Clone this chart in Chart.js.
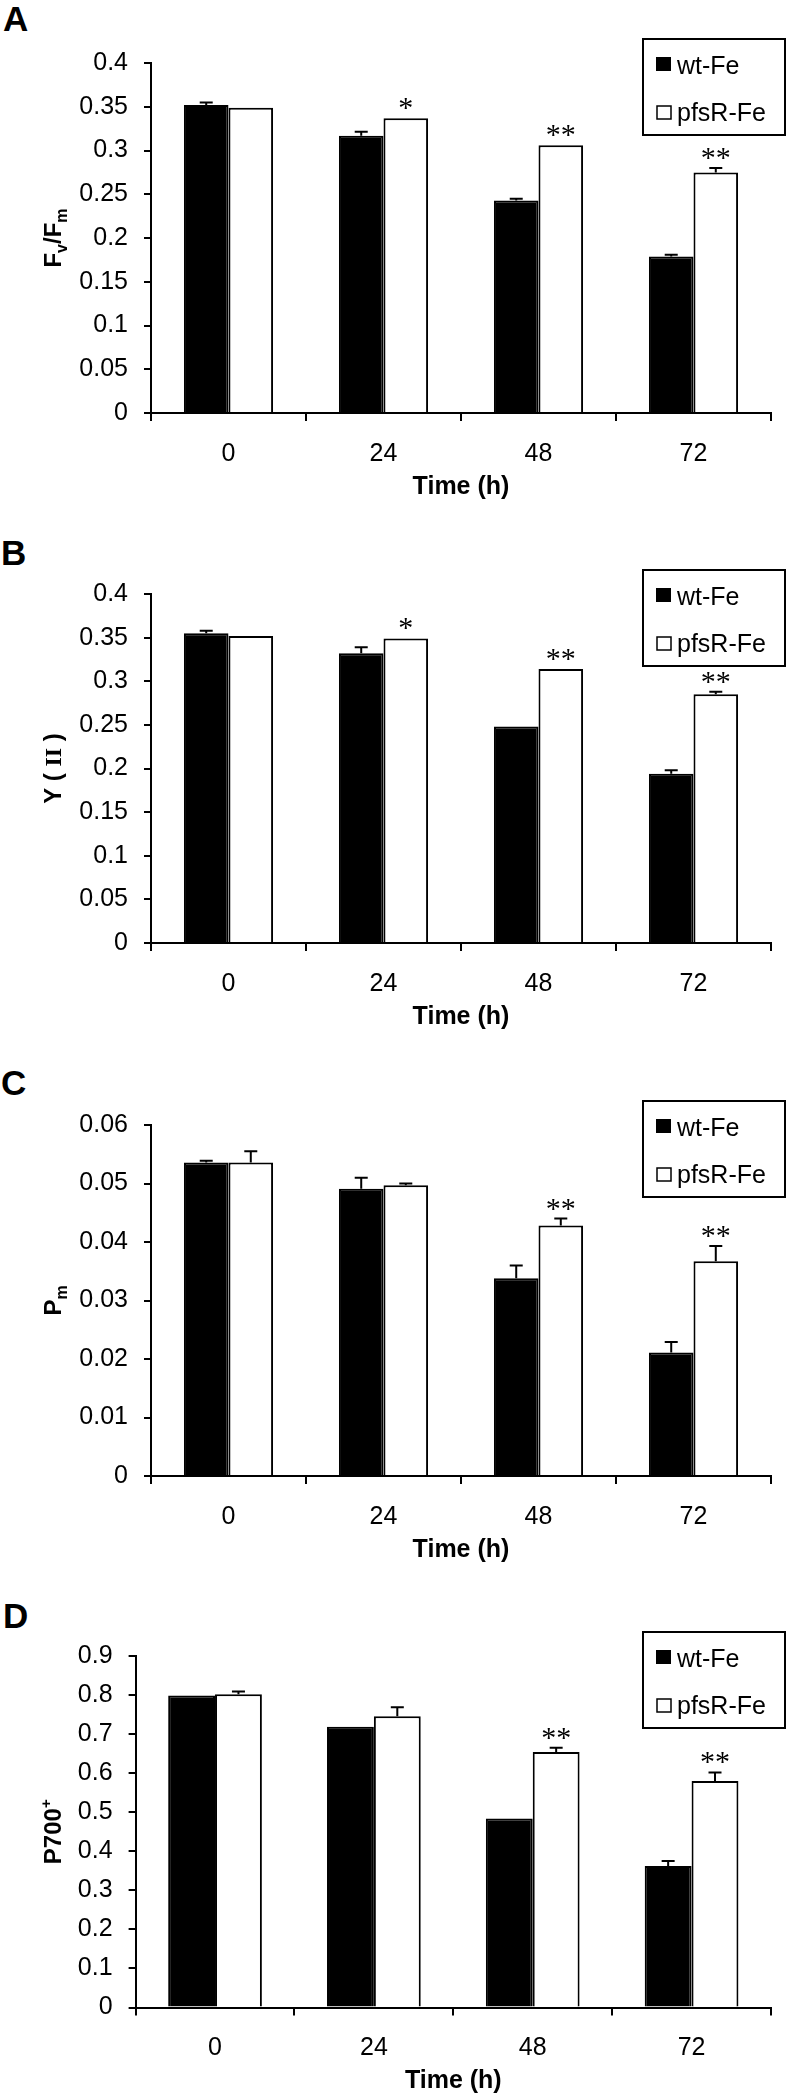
<!DOCTYPE html>
<html lang="en">
<head>
<meta charset="UTF-8">
<title>Fe stress photosynthesis</title>
<script src="https://cdn.jsdelivr.net/npm/chart.js"></script>
<style>
  body { margin:0; background:#fff; }
  #page { position:relative; width:793px; height:2099px; overflow:hidden; background:#fff; }
  .panel { position:absolute; left:0; width:793px; height:524px; }
  .letter { position:absolute; left:3px; font:bold 35px 'Liberation Sans', Arial, sans-serif; line-height:35px; color:#000; }
</style>
</head>
<body>
<div id="page">
  <div class="letter" style="top:1px">A</div>
  <div class="letter" style="top:535px;left:1px">B</div>
  <div class="letter" style="top:1065px;left:1px">C</div>
  <div class="letter" style="top:1598px">D</div>
  <div class="panel" style="top:0"><canvas id="chartA" width="793" height="524"></canvas></div>
  <div class="panel" style="top:525px"><canvas id="chartB" width="793" height="524"></canvas></div>
  <div class="panel" style="top:1050px"><canvas id="chartC" width="793" height="524"></canvas></div>
  <div class="panel" style="top:1575px"><canvas id="chartD" width="793" height="524"></canvas></div>
</div>

<script>
// categories / series
const times = ['0', '24', '48', '72'];
const seriesNames = ['wt-Fe', 'pfsR-Fe'];

// A: Fv/Fm
const fvfmWt     = [0.352, 0.317, 0.243, 0.179];
const fvfmWtErr  = [0.003, 0.0045, 0.002, 0.002];
const fvfmPfs    = [0.349, 0.337, 0.306, 0.275];
const fvfmPfsErr = [0, 0, 0, 0.005];
const fvfmSig    = ['', '*', '**', '**'];
const fvfmTicks  = [0, 0.05, 0.1, 0.15, 0.2, 0.25, 0.3, 0.35, 0.4];

// B: Y(II)
const yiiWt     = [0.355, 0.332, 0.248, 0.194];
const yiiWtErr  = [0.003, 0.007, 0, 0.004];
const yiiPfs    = [0.352, 0.349, 0.314, 0.285];
const yiiPfsErr = [0, 0, 0, 0.003];
const yiiSig    = ['', '*', '**', '**'];
const yiiTicks  = [0, 0.05, 0.1, 0.15, 0.2, 0.25, 0.3, 0.35, 0.4];

// C: Pm
const pmWt     = [0.0536, 0.0491, 0.0338, 0.0211];
const pmWtErr  = [0.0003, 0.0019, 0.0022, 0.0018];
const pmPfs    = [0.0536, 0.0497, 0.0428, 0.0367];
const pmPfsErr = [0.0019, 0.0003, 0.0012, 0.0026];
const pmSig    = ['', '', '**', '**'];
const pmTicks  = [0, 0.01, 0.02, 0.03, 0.04, 0.05, 0.06];

// D: P700+
const p700Wt     = [0.799, 0.719, 0.484, 0.362];
const p700WtErr  = [0, 0, 0, 0.013];
const p700Pfs    = [0.802, 0.746, 0.654, 0.580];
const p700PfsErr = [0.007, 0.023, 0.011, 0.022];
const p700Sig    = ['', '', '**', '**'];
const p700Ticks  = [0, 0.1, 0.2, 0.3, 0.4, 0.5, 0.6, 0.7, 0.8, 0.9];

const FONT = "'Liberation Sans', Arial, sans-serif";
Chart.defaults.font.family = FONT;
Chart.defaults.color = '#000';

// error bars, asterisks, boxed legend, y title with sub/superscripts
const extras = {
    id: 'extras',
    afterDatasetsDraw(chart, args, opts) {
        const ctx = chart.ctx;
        const ys = chart.scales.y;
        ctx.save();
        ctx.strokeStyle = '#000';
        ctx.lineWidth = 2;
        chart.data.datasets.forEach((ds, i) => {
            const meta = chart.getDatasetMeta(i);
            meta.data.forEach((bar, j) => {
                const e = ds.err[j];
                if (!e) return;
                const top = ys.getPixelForValue(ds.data[j] + e);
                ctx.beginPath();
                ctx.moveTo(bar.x, bar.y);
                ctx.lineTo(bar.x, top);
                ctx.moveTo(bar.x - 6.5, top);
                ctx.lineTo(bar.x + 6.5, top);
                ctx.stroke();
            });
        });

        // significance stars over pfsR bars
        const ds = chart.data.datasets[1];
        const meta = chart.getDatasetMeta(1);
        ctx.font = "30px 'Liberation Serif', 'Times New Roman', serif";
        ctx.fillStyle = '#000';
        ctx.textAlign = 'center';
        ctx.textBaseline = 'alphabetic';
        meta.data.forEach((bar, j) => {
            const s = ds.sig[j];
            if (!s) return;
            const top = ys.getPixelForValue(ds.data[j] + (ds.err[j] || 0));
            const m = ctx.measureText(s);
            ctx.fillText(s, bar.x, top - 9 - m.actualBoundingBoxDescent);
        });

        // legend box
        const ca = chart.chartArea;
        const lx = 643, ly = ca.top - 24, lw = 142, lh = 96;
        ctx.lineWidth = 2;
        ctx.strokeRect(lx, ly, lw, lh);
        ctx.fillStyle = '#000';
        ctx.fillRect(lx + 13, ly + 18, 15, 14);
        ctx.lineWidth = 1.5;
        ctx.strokeRect(lx + 14, ly + 67, 14, 13);
        ctx.font = '25px ' + FONT;
        ctx.textAlign = 'left';
        ctx.textBaseline = 'middle';
        ctx.fillText(chart.data.datasets[0].label, lx + 34, ly + 28);
        ctx.fillText(chart.data.datasets[1].label, lx + 34, ly + 75);

        // rotated y title
        const parts = opts.title;
        const cy = (ca.top + ca.bottom) / 2;
        const fontOf = p => 'bold ' + p.size + 'px ' + (p.serif ? "'Liberation Serif', serif" : FONT);
        let total = 0;
        parts.forEach(p => { ctx.font = fontOf(p); p.w = ctx.measureText(p.t).width; total += p.w; });
        ctx.translate(61, cy);
        ctx.rotate(-Math.PI / 2);
        ctx.textAlign = 'left';
        ctx.textBaseline = 'alphabetic';
        let x = -total / 2;
        parts.forEach(p => {
            ctx.font = fontOf(p);
            ctx.fillText(p.t, x, p.dy);
            x += p.w;
        });
        ctx.restore();
    }
};

const seg = (t, kind, serif) => {
    if (kind === 'sub') return {t, size: 16, dy: 6, serif};
    if (kind === 'sup') return {t, size: 15, dy: -10, serif};
    return {t, size: 24, dy: 0, serif};
};

const panels = [
    {id: 'chartA', top: 63, bottom: 22, yWidth: 151, cat: 0.575, ticks: fvfmTicks,
     wt: fvfmWt, wtErr: fvfmWtErr, pfs: fvfmPfs, pfsErr: fvfmPfsErr, sig: fvfmSig,
     title: [seg('F'), seg('v', 'sub'), seg('/F'), seg('m', 'sub')]},
    {id: 'chartB', top: 69, bottom: 17, yWidth: 151, cat: 0.575, ticks: yiiTicks,
     wt: yiiWt, wtErr: yiiWtErr, pfs: yiiPfs, pfsErr: yiiPfsErr, sig: yiiSig,
     title: [seg('Y ( '), seg('II', '', true), seg(' )')]},
    {id: 'chartC', top: 75, bottom: 9, yWidth: 151, cat: 0.575, ticks: pmTicks,
     wt: pmWt, wtErr: pmWtErr, pfs: pmPfs, pfsErr: pmPfsErr, sig: pmSig,
     title: [seg('P'), seg('m', 'sub')]},
    {id: 'chartD', top: 81, bottom: 2.5, yWidth: 135.6, cat: 0.59, ticks: p700Ticks,
     wt: p700Wt, wtErr: p700WtErr, pfs: p700Pfs, pfsErr: p700PfsErr, sig: p700Sig,
     title: [seg('P700'), seg('+', 'sup')]}
];

const drawPanel = (p) => {
    const ctx = document.getElementById(p.id).getContext('2d');
    new Chart(ctx, {
        type: 'bar',
        data: {
            labels: times,
            datasets: [
                {label: seriesNames[0], data: p.wt, err: p.wtErr,
                 backgroundColor: '#000', borderColor: '#000', borderWidth: 2},
                {label: seriesNames[1], data: p.pfs, err: p.pfsErr, sig: p.sig,
                 backgroundColor: '#fff', borderColor: '#000', borderWidth: 2}
            ]
        },
        options: {
            responsive: false,
            animation: false,
            devicePixelRatio: 1,
            layout: {padding: {top: p.top, right: 22, bottom: p.bottom, left: 0}},
            datasets: {bar: {barPercentage: 1, categoryPercentage: p.cat}},
            plugins: {
                legend: {display: false},
                tooltip: {enabled: false},
                extras: {title: p.title}
            },
            scales: {
                x: {
                    grid: {display: true, drawOnChartArea: false, tickLength: 8, color: '#000', lineWidth: 2, offset: true},
                    border: {display: true, color: '#000', width: 2},
                    ticks: {font: {size: 25}, color: '#000', padding: 18},
                    title: {display: true, text: 'Time (h)', color: '#000', font: {size: 25, weight: 'bold'}, padding: 0},
                    afterFit: s => { s.height = 89; }
                },
                y: {
                    min: p.ticks[0],
                    max: p.ticks[p.ticks.length - 1],
                    afterBuildTicks: s => { s.ticks = p.ticks.map(v => ({value: v})); },
                    grid: {display: true, drawOnChartArea: false, tickLength: 7, color: '#000', lineWidth: 2},
                    border: {display: true, color: '#000', width: 2},
                    ticks: {font: {size: 25}, color: '#000', padding: 16, callback: v => String(v)},
                    afterFit: s => { s.width = p.yWidth; }
                }
            }
        },
        plugins: [extras]
    });
};

panels.forEach(drawPanel);
</script>
</body>
</html>
